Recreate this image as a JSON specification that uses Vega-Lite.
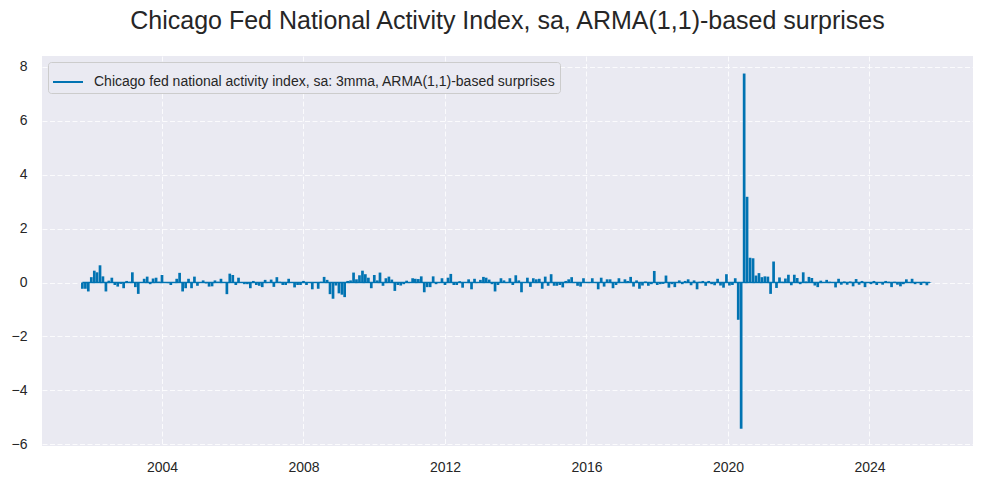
{
  "$schema": "https://vega.github.io/schema/vega-lite/v6.json",
  "width": 931,
  "height": 390,
  "autosize": {"type": "none"},
  "padding": {"left": 42, "top": 56, "right": 11, "bottom": 38},
  "title": {
    "text": "Chicago Fed National Activity Index, sa, ARMA(1,1)-based surprises",
    "fontSize": 25,
    "font": "Liberation Sans",
    "fontWeight": "normal",
    "color": "#262626",
    "anchor": "middle",
    "frame": "group",
    "offset": 22
  },
  "data": {
    "values": [
      {"d": "2001-10-01", "v": -0.23}, {"d": "2001-11-01", "v": -0.23}, {"d": "2001-12-01", "v": -0.33},
      {"d": "2002-01-01", "v": 0.2}, {"d": "2002-02-01", "v": 0.44}, {"d": "2002-03-01", "v": 0.38},
      {"d": "2002-04-01", "v": 0.64}, {"d": "2002-05-01", "v": 0.23}, {"d": "2002-06-01", "v": -0.33},
      {"d": "2002-07-01", "v": 0.07}, {"d": "2002-08-01", "v": 0.18}, {"d": "2002-09-01", "v": -0.09},
      {"d": "2002-10-01", "v": -0.15}, {"d": "2002-11-01", "v": -0.05}, {"d": "2002-12-01", "v": -0.21},
      {"d": "2003-01-01", "v": 0.06}, {"d": "2003-02-01", "v": 0.03}, {"d": "2003-03-01", "v": 0.38},
      {"d": "2003-04-01", "v": -0.17}, {"d": "2003-05-01", "v": -0.42}, {"d": "2003-06-01", "v": 0.02},
      {"d": "2003-07-01", "v": 0.14}, {"d": "2003-08-01", "v": 0.22}, {"d": "2003-09-01", "v": -0.06},
      {"d": "2003-10-01", "v": 0.15}, {"d": "2003-11-01", "v": 0.18}, {"d": "2003-12-01", "v": 0.03},
      {"d": "2004-01-01", "v": 0.28}, {"d": "2004-02-01", "v": 0.02}, {"d": "2004-03-01", "v": -0.02},
      {"d": "2004-04-01", "v": -0.09}, {"d": "2004-05-01", "v": 0.02}, {"d": "2004-06-01", "v": 0.14},
      {"d": "2004-07-01", "v": 0.36}, {"d": "2004-08-01", "v": -0.33}, {"d": "2004-09-01", "v": -0.21},
      {"d": "2004-10-01", "v": 0.14}, {"d": "2004-11-01", "v": -0.21}, {"d": "2004-12-01", "v": 0.22},
      {"d": "2005-01-01", "v": -0.12}, {"d": "2005-02-01", "v": 0.02}, {"d": "2005-03-01", "v": 0.08},
      {"d": "2005-04-01", "v": -0.03}, {"d": "2005-05-01", "v": -0.15}, {"d": "2005-06-01", "v": -0.14},
      {"d": "2005-07-01", "v": 0.08}, {"d": "2005-08-01", "v": 0.03}, {"d": "2005-09-01", "v": 0.14},
      {"d": "2005-10-01", "v": 0.02}, {"d": "2005-11-01", "v": -0.43}, {"d": "2005-12-01", "v": 0.33},
      {"d": "2006-01-01", "v": 0.28}, {"d": "2006-02-01", "v": -0.09}, {"d": "2006-03-01", "v": 0.18},
      {"d": "2006-04-01", "v": 0.02}, {"d": "2006-05-01", "v": -0.06}, {"d": "2006-06-01", "v": -0.06},
      {"d": "2006-07-01", "v": -0.21}, {"d": "2006-08-01", "v": 0.06}, {"d": "2006-09-01", "v": -0.09},
      {"d": "2006-10-01", "v": -0.12}, {"d": "2006-11-01", "v": -0.17}, {"d": "2006-12-01", "v": 0.1},
      {"d": "2007-01-01", "v": 0.02}, {"d": "2007-02-01", "v": 0.11}, {"d": "2007-03-01", "v": -0.16},
      {"d": "2007-04-01", "v": 0.2}, {"d": "2007-05-01", "v": 0.03}, {"d": "2007-06-01", "v": -0.09},
      {"d": "2007-07-01", "v": -0.09}, {"d": "2007-08-01", "v": 0.14}, {"d": "2007-09-01", "v": 0.02},
      {"d": "2007-10-01", "v": -0.18}, {"d": "2007-11-01", "v": -0.09}, {"d": "2007-12-01", "v": -0.09},
      {"d": "2008-01-01", "v": 0.06}, {"d": "2008-02-01", "v": -0.09}, {"d": "2008-03-01", "v": 0.02},
      {"d": "2008-04-01", "v": -0.25}, {"d": "2008-05-01", "v": 0.02}, {"d": "2008-06-01", "v": -0.23},
      {"d": "2008-07-01", "v": 0.03}, {"d": "2008-08-01", "v": 0.21}, {"d": "2008-09-01", "v": 0.1},
      {"d": "2008-10-01", "v": -0.43}, {"d": "2008-11-01", "v": -0.6}, {"d": "2008-12-01", "v": -0.11},
      {"d": "2009-01-01", "v": -0.4}, {"d": "2009-02-01", "v": -0.45}, {"d": "2009-03-01", "v": -0.54},
      {"d": "2009-04-01", "v": 0.06}, {"d": "2009-05-01", "v": 0.08}, {"d": "2009-06-01", "v": 0.37},
      {"d": "2009-07-01", "v": 0.12}, {"d": "2009-08-01", "v": 0.27}, {"d": "2009-09-01", "v": 0.44},
      {"d": "2009-10-01", "v": 0.31}, {"d": "2009-11-01", "v": 0.18}, {"d": "2009-12-01", "v": -0.21},
      {"d": "2010-01-01", "v": 0.28}, {"d": "2010-02-01", "v": 0.08}, {"d": "2010-03-01", "v": 0.37},
      {"d": "2010-04-01", "v": -0.12}, {"d": "2010-05-01", "v": 0.16}, {"d": "2010-06-01", "v": 0.22},
      {"d": "2010-07-01", "v": 0.11}, {"d": "2010-08-01", "v": -0.31}, {"d": "2010-09-01", "v": -0.09},
      {"d": "2010-10-01", "v": -0.11}, {"d": "2010-11-01", "v": -0.06}, {"d": "2010-12-01", "v": 0.07},
      {"d": "2011-01-01", "v": 0.02}, {"d": "2011-02-01", "v": 0.16}, {"d": "2011-03-01", "v": 0.14},
      {"d": "2011-04-01", "v": 0.13}, {"d": "2011-05-01", "v": 0.23}, {"d": "2011-06-01", "v": -0.36},
      {"d": "2011-07-01", "v": -0.17}, {"d": "2011-08-01", "v": -0.17}, {"d": "2011-09-01", "v": 0.23},
      {"d": "2011-10-01", "v": -0.06}, {"d": "2011-11-01", "v": 0.02}, {"d": "2011-12-01", "v": 0.16},
      {"d": "2012-01-01", "v": -0.09}, {"d": "2012-02-01", "v": 0.18}, {"d": "2012-03-01", "v": 0.32},
      {"d": "2012-04-01", "v": -0.09}, {"d": "2012-05-01", "v": -0.09}, {"d": "2012-06-01", "v": 0.05},
      {"d": "2012-07-01", "v": -0.19}, {"d": "2012-08-01", "v": 0.02}, {"d": "2012-09-01", "v": 0.12},
      {"d": "2012-10-01", "v": -0.25}, {"d": "2012-11-01", "v": 0.14}, {"d": "2012-12-01", "v": 0.02},
      {"d": "2013-01-01", "v": 0.1}, {"d": "2013-02-01", "v": 0.21}, {"d": "2013-03-01", "v": 0.18},
      {"d": "2013-04-01", "v": 0.11}, {"d": "2013-05-01", "v": -0.06}, {"d": "2013-06-01", "v": -0.33},
      {"d": "2013-07-01", "v": -0.09}, {"d": "2013-08-01", "v": 0.16}, {"d": "2013-09-01", "v": 0.08},
      {"d": "2013-10-01", "v": 0.01}, {"d": "2013-11-01", "v": 0.16}, {"d": "2013-12-01", "v": -0.09},
      {"d": "2014-01-01", "v": 0.27}, {"d": "2014-02-01", "v": 0.08}, {"d": "2014-03-01", "v": -0.36},
      {"d": "2014-04-01", "v": 0.02}, {"d": "2014-05-01", "v": 0.18}, {"d": "2014-06-01", "v": -0.16},
      {"d": "2014-07-01", "v": 0.16}, {"d": "2014-08-01", "v": 0.12}, {"d": "2014-09-01", "v": 0.14},
      {"d": "2014-10-01", "v": -0.23}, {"d": "2014-11-01", "v": 0.22}, {"d": "2014-12-01", "v": -0.12},
      {"d": "2015-01-01", "v": 0.31}, {"d": "2015-02-01", "v": -0.12}, {"d": "2015-03-01", "v": -0.12},
      {"d": "2015-04-01", "v": -0.09}, {"d": "2015-05-01", "v": -0.18}, {"d": "2015-06-01", "v": 0.06},
      {"d": "2015-07-01", "v": 0.12}, {"d": "2015-08-01", "v": 0.2}, {"d": "2015-09-01", "v": 0.02},
      {"d": "2015-10-01", "v": -0.12}, {"d": "2015-11-01", "v": -0.15}, {"d": "2015-12-01", "v": 0.16},
      {"d": "2016-01-01", "v": 0.02}, {"d": "2016-02-01", "v": 0.01}, {"d": "2016-03-01", "v": 0.16},
      {"d": "2016-04-01", "v": 0.02}, {"d": "2016-05-01", "v": -0.25}, {"d": "2016-06-01", "v": 0.18},
      {"d": "2016-07-01", "v": -0.15}, {"d": "2016-08-01", "v": 0.12}, {"d": "2016-09-01", "v": 0.12},
      {"d": "2016-10-01", "v": -0.21}, {"d": "2016-11-01", "v": -0.09}, {"d": "2016-12-01", "v": 0.16},
      {"d": "2017-01-01", "v": 0.02}, {"d": "2017-02-01", "v": 0.12}, {"d": "2017-03-01", "v": 0.06},
      {"d": "2017-04-01", "v": 0.21}, {"d": "2017-05-01", "v": -0.15}, {"d": "2017-06-01", "v": 0.08},
      {"d": "2017-07-01", "v": -0.23}, {"d": "2017-08-01", "v": -0.11}, {"d": "2017-09-01", "v": 0.04},
      {"d": "2017-10-01", "v": -0.12}, {"d": "2017-11-01", "v": -0.06}, {"d": "2017-12-01", "v": 0.43},
      {"d": "2018-01-01", "v": -0.09}, {"d": "2018-02-01", "v": -0.06}, {"d": "2018-03-01", "v": -0.05},
      {"d": "2018-04-01", "v": 0.26}, {"d": "2018-05-01", "v": -0.19}, {"d": "2018-06-01", "v": -0.06},
      {"d": "2018-07-01", "v": -0.17}, {"d": "2018-08-16", "v": 0.08}, {"d": "2018-09-16", "v": -0.06},
      {"d": "2018-10-16", "v": 0.06}, {"d": "2018-11-16", "v": 0.12}, {"d": "2018-12-16", "v": -0.1},
      {"d": "2019-01-16", "v": 0.08}, {"d": "2019-02-16", "v": -0.25}, {"d": "2019-03-16", "v": 0.03},
      {"d": "2019-04-16", "v": 0.06}, {"d": "2019-05-16", "v": -0.12}, {"d": "2019-06-16", "v": 0.06},
      {"d": "2019-07-16", "v": -0.06}, {"d": "2019-08-16", "v": -0.1}, {"d": "2019-09-16", "v": 0.14},
      {"d": "2019-10-16", "v": -0.11}, {"d": "2019-11-16", "v": -0.19}, {"d": "2019-12-16", "v": 0.31},
      {"d": "2020-01-16", "v": -0.11}, {"d": "2020-02-16", "v": -0.09}, {"d": "2020-03-16", "v": 0.16},
      {"d": "2020-04-16", "v": -1.38}, {"d": "2020-05-16", "v": -5.42}, {"d": "2020-06-16", "v": 7.75},
      {"d": "2020-07-16", "v": 3.18}, {"d": "2020-08-16", "v": 0.92}, {"d": "2020-09-16", "v": 0.9},
      {"d": "2020-10-16", "v": 0.26}, {"d": "2020-11-16", "v": 0.35}, {"d": "2020-12-16", "v": 0.2},
      {"d": "2021-01-16", "v": 0.23}, {"d": "2021-02-16", "v": 0.22}, {"d": "2021-03-16", "v": -0.42},
      {"d": "2021-04-16", "v": 0.78}, {"d": "2021-05-16", "v": -0.2}, {"d": "2021-06-16", "v": 0.19},
      {"d": "2021-07-16", "v": 0.03}, {"d": "2021-08-16", "v": 0.15}, {"d": "2021-09-16", "v": 0.29},
      {"d": "2021-10-16", "v": -0.1}, {"d": "2021-11-16", "v": 0.29}, {"d": "2021-12-16", "v": 0.17},
      {"d": "2022-01-16", "v": -0.06}, {"d": "2022-02-16", "v": 0.38}, {"d": "2022-03-16", "v": 0.04},
      {"d": "2022-04-16", "v": 0.21}, {"d": "2022-05-16", "v": 0.17}, {"d": "2022-06-16", "v": -0.11},
      {"d": "2022-07-16", "v": -0.17}, {"d": "2022-08-16", "v": 0.07}, {"d": "2022-09-16", "v": 0.02},
      {"d": "2022-10-16", "v": 0.1}, {"d": "2022-11-16", "v": 0.03}, {"d": "2022-12-16", "v": 0.02},
      {"d": "2023-01-16", "v": -0.18}, {"d": "2023-02-16", "v": 0.14}, {"d": "2023-03-16", "v": -0.08},
      {"d": "2023-04-16", "v": 0.04}, {"d": "2023-05-16", "v": -0.08}, {"d": "2023-06-16", "v": 0.04},
      {"d": "2023-07-16", "v": -0.14}, {"d": "2023-08-16", "v": 0.13}, {"d": "2023-09-16", "v": -0.08},
      {"d": "2023-10-16", "v": 0.06}, {"d": "2023-11-16", "v": -0.17}, {"d": "2023-12-16", "v": 0.02},
      {"d": "2024-01-16", "v": -0.06}, {"d": "2024-02-16", "v": 0.06}, {"d": "2024-03-16", "v": -0.09},
      {"d": "2024-04-16", "v": 0.02}, {"d": "2024-05-16", "v": -0.08}, {"d": "2024-06-16", "v": 0.06},
      {"d": "2024-07-16", "v": 0.03}, {"d": "2024-08-16", "v": -0.17}, {"d": "2024-09-16", "v": 0.03},
      {"d": "2024-10-16", "v": -0.08}, {"d": "2024-11-16", "v": -0.14}, {"d": "2024-12-16", "v": -0.06},
      {"d": "2025-01-16", "v": 0.12}, {"d": "2025-02-16", "v": 0.02}, {"d": "2025-03-16", "v": 0.14},
      {"d": "2025-04-16", "v": -0.06}, {"d": "2025-05-16", "v": 0.02}, {"d": "2025-06-16", "v": -0.09},
      {"d": "2025-07-16", "v": 0.03}, {"d": "2025-08-16", "v": -0.1}, {"d": "2025-09-16", "v": 0.02}
    ]
  },
  "encoding": {
    "x": {
      "field": "d",
      "type": "temporal",
      "title": null,
      "scale": {"domain": [{"year": 2000, "month": 8, "date": 10}, {"year": 2026, "month": 12, "date": 5}], "padding": 0},
      "axis": {
        "values": [{"year": 2004}, {"year": 2008}, {"year": 2012}, {"year": 2016}, {"year": 2020}, {"year": 2024}],
        "format": "%Y",
        "labelPadding": 14
      }
    }
  },
  "layer": [
    {
      "mark": {"type": "rule", "strokeWidth": 1.5},
      "encoding": {
        "x": {"field": "d", "type": "temporal", "aggregate": "min"},
        "x2": {"field": "d", "aggregate": "max"},
        "y": {"datum": 0, "type": "quantitative"},
        "color": {
          "datum": "Chicago fed national activity index, sa: 3mma, ARMA(1,1)-based surprises",
          "scale": {"range": ["#0173B2"]},
          "legend": {
            "title": null,
            "orient": "none",
            "legendX": 6,
            "legendY": 6,
            "padding": 4,
            "fillColor": "#EAEAF2",
            "strokeColor": "#CCCCCC",
            "cornerRadius": 3,
            "symbolType": "stroke",
            "symbolSize": 900,
            "symbolStrokeWidth": 2,
            "labelFontSize": 14,
            "labelOffset": 10,
            "labelColor": "#262626",
            "labelFont": "Liberation Sans",
            "labelLimit": 700
          }
        }
      }
    },
    {
      "mark": {"type": "bar", "size": 2.7, "color": "#0173B2"},
      "encoding": {
        "y": {
          "field": "v",
          "type": "quantitative",
          "title": null,
          "scale": {"domain": [-6.06, 8.4], "nice": false, "zero": false, "padding": 0},
          "axis": {"values": [-6, -4, -2, 0, 2, 4, 6, 8], "labelPadding": 15}
        },
        "y2": {"datum": 0}
      }
    },
    {
      "mark": {"type": "rule", "color": "black", "strokeWidth": 2, "strokeDash": [7.4, 3.2]},
      "encoding": {"y": {"datum": 0, "type": "quantitative"}}
    }
  ],
  "config": {
    "font": "Liberation Sans",
    "view": {"fill": "#EAEAF2", "stroke": null},
    "axis": {
      "grid": true,
      "gridColor": "#FFFFFF",
      "gridOpacity": 0.8,
      "gridWidth": 1,
      "gridDash": [5, 2.5],
      "domain": false,
      "ticks": false,
      "labelFontSize": 14,
      "labelColor": "#262626",
      "labelFont": "Liberation Sans"
    }
  }
}
